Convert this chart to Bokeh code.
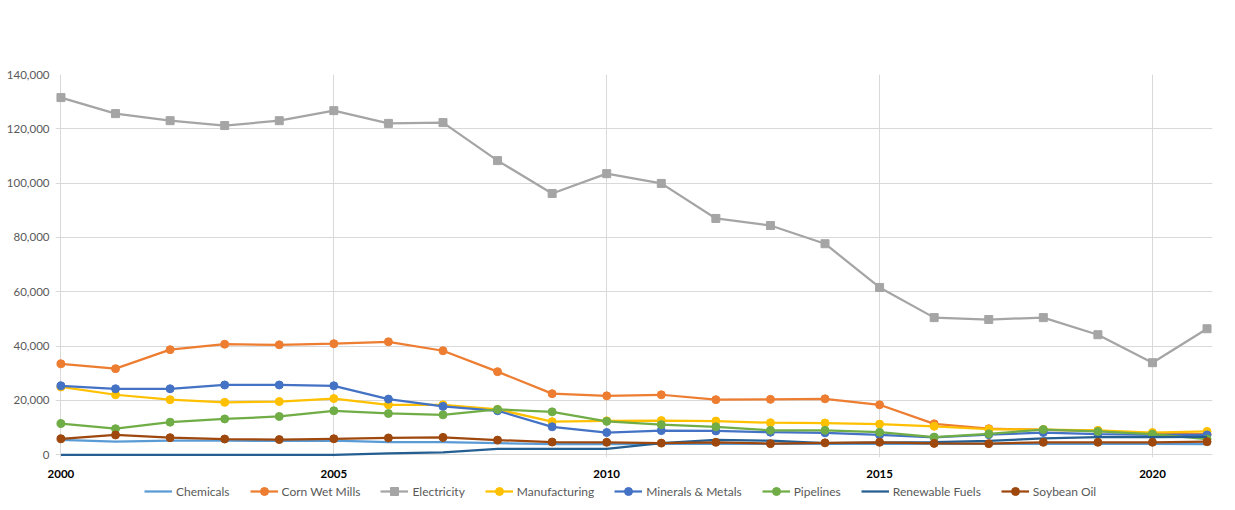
from bokeh.plotting import figure
from bokeh.layouts import column
from bokeh.models import (Legend, LegendItem, NumeralTickFormatter, FixedTicker,
                          Range1d)
from bokeh.embed import file_html
from bokeh.resources import INLINE

years = list(range(2000, 2022))

chemicals = [5500, 4800, 5200, 5200, 5100, 5200, 4700, 4700, 4300, 3900, 3900,
             4000, 4000, 4000, 4000, 4100, 4000, 4000, 4000, 4000, 4000, 3900]
corn_wet_mills = [33500, 31700, 38700, 40700, 40500, 40900, 41600, 38300, 30600, 22500, 21700,
                  22100, 20300, 20400, 20600, 18400, 11400, 9600, 9200, 8800, 7800, 7600]
electricity = [131500, 125600, 123000, 121200, 123000, 126700, 122000, 122300, 108300, 96200, 103500,
               99900, 87000, 84400, 77700, 61600, 50500, 49800, 50500, 44200, 33900, 46400]
manufacturing = [25000, 22100, 20300, 19300, 19600, 20700, 18400, 18400, 16700, 12200, 12500,
                 12600, 12400, 11800, 11700, 11300, 10500, 9400, 9300, 9000, 8200, 8600]
minerals_metals = [25400, 24300, 24300, 25700, 25700, 25400, 20500, 17800, 16200, 10300, 8200,
                   8900, 8800, 8300, 8100, 7300, 6400, 7400, 8200, 7600, 7300, 7300]
pipelines = [11500, 9600, 12000, 13200, 14100, 16200, 15200, 14700, 16700, 15800, 12300,
             11100, 10300, 9000, 9000, 8300, 6500, 7700, 9300, 8600, 7600, 5800]
renewable_fuels = [0, 0, 0, 0, 0, 0, 500, 900, 2200, 2200, 2200,
                   4300, 5500, 5200, 4300, 4500, 4700, 5100, 6000, 6500, 6500, 6600]
soybean_oil = [5900, 7300, 6300, 5800, 5600, 5900, 6200, 6400, 5400, 4700, 4600,
               4300, 4600, 4100, 4400, 4600, 4200, 4100, 4600, 4600, 4600, 4800]

x_ticks = [2000, 2005, 2010, 2015, 2020]
y_ticks = [0, 20000, 40000, 60000, 80000, 100000, 120000, 140000]

series = [
    ("Chemicals", chemicals, "#5B9BD5", None),
    ("Corn Wet Mills", corn_wet_mills, "#ED7D31", "circle"),
    ("Electricity", electricity, "#A5A5A5", "square"),
    ("Manufacturing", manufacturing, "#FFC000", "circle"),
    ("Minerals & Metals", minerals_metals, "#4472C4", "circle"),
    ("Pipelines", pipelines, "#70AD47", "circle"),
    ("Renewable Fuels", renewable_fuels, "#255E91", None),
    ("Soybean Oil", soybean_oil, "#9E480E", "circle"),
]

FONT = "Lato"

p = figure(width=1235, height=480, output_backend="svg", toolbar_location=None,
           x_range=Range1d(1999.9, 2021.1), y_range=Range1d(-1000, 140000),
           min_border_left=55, min_border_right=23, min_border_top=74,
           min_border_bottom=23)
p.outline_line_color = None
p.background_fill_color = "white"
p.border_fill_color = "white"

# grid
p.xgrid.ticker = FixedTicker(ticks=x_ticks)
p.ygrid.ticker = FixedTicker(ticks=y_ticks)
p.xgrid.grid_line_color = "#D9D9D9"
p.ygrid.grid_line_color = "#D9D9D9"
p.xgrid.grid_line_width = 1
p.ygrid.grid_line_width = 1

# axes
p.xaxis.ticker = FixedTicker(ticks=x_ticks)
p.yaxis.ticker = FixedTicker(ticks=y_ticks)
p.yaxis.formatter = NumeralTickFormatter(format="0,0")
for ax in (p.xaxis[0], p.yaxis[0]):
    ax.major_tick_line_color = None
    ax.minor_tick_line_color = None
    ax.axis_line_color = None
    ax.major_label_text_font = FONT
    ax.major_label_text_font_size = "11.5px"
p.xaxis.major_label_text_font_style = "bold"
p.xaxis.major_label_text_color = "#000000"
p.xaxis.major_label_standoff = 6
p.yaxis.major_label_text_color = "#595959"
p.yaxis.major_label_standoff = 0

for name, vals, color, marker in series:
    p.line(years, vals, line_color=color, line_width=2.25)
    if marker is not None:
        p.scatter(years, vals, marker=marker, size=8, fill_color=color,
                  line_color=color)

# legend strip: a small figure whose ranges keep the proxy renderers off-view
lg = figure(width=1235, height=30, output_backend="svg", toolbar_location=None,
            x_range=Range1d(0, 1), y_range=Range1d(-2e6, -1e6),
            min_border_left=0, min_border_right=0, min_border_top=0,
            min_border_bottom=0)
lg.axis.visible = False
lg.grid.visible = False
lg.outline_line_color = None
lg.border_fill_color = "white"

items = []
for name, vals, color, marker in series:
    rs = [lg.line(years, vals, line_color=color, line_width=2.25)]
    if marker is not None:
        rs.append(lg.scatter(years, vals, marker=marker, size=8, fill_color=color,
                             line_color=color))
    items.append(LegendItem(label=name, renderers=rs))

legend = Legend(items=items, orientation="horizontal", location=(89, 9),
                label_text_font=FONT, label_text_font_size="12px",
                label_text_color="#595959", glyph_width=28, glyph_height=20,
                label_standoff=4, spacing=20, padding=0, margin=0,
                border_line_color=None, background_fill_alpha=0)
lg.add_layout(legend, "center")

layout = column(p, lg, spacing=0)
open("out.html", "w").write(file_html(layout, INLINE))
